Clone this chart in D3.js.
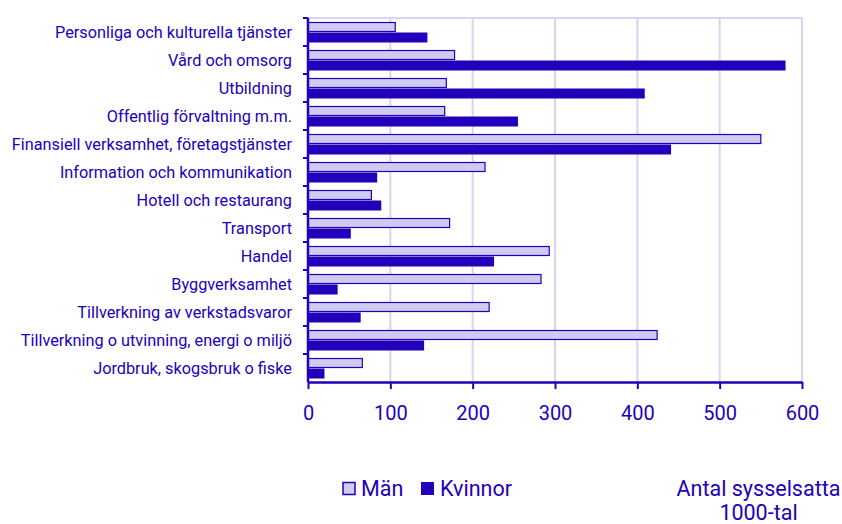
<!DOCTYPE html>
<html>
<head>
<meta charset="utf-8">
<script src="https://cdn.jsdelivr.net/npm/d3@7"></script>
<style>
	body { margin: 0; background: #fff; }
	svg { font-family: Roboto, "Noto Sans", sans-serif; }
</style>
</head>
<body>
<script>
	// DATA
	const categories = [
		'Personliga och kulturella tjänster',
		'Vård och omsorg',
		'Utbildning',
		'Offentlig förvaltning m.m.',
		'Finansiell verksamhet, företagstjänster',
		'Information och kommunikation',
		'Hotell och restaurang',
		'Transport',
		'Handel',
		'Byggverksamhet',
		'Tillverkning av verkstadsvaror',
		'Tillverkning o utvinning, energi o miljö',
		'Jordbruk, skogsbruk o fiske'
	];
	const man = [106, 178, 168, 166, 550, 215, 77, 172, 293, 283, 220, 424, 66];
	const kvinnor = [145, 580, 409, 255, 441, 84, 89, 52, 226, 36, 64, 141, 20];
	const xTicks = [0, 100, 200, 300, 400, 500, 600];
	const seriesNames = ['Män', 'Kvinnor'];

	// CONFIGURATION
	const width = 842;
	const height = 524;
	const plotLeft = 308;
	const plotRight = 802;
	const plotTop = 18;
	const plotBottom = 382;
	const dark = '#2200bb';
	const light = '#d0ccf0';
	const grid = '#d6d6f0';

	const xScale = d3.scaleLinear().domain([0, 600]).range([plotLeft, plotRight]);
	const yScale = d3.scaleBand().domain(categories).range([plotTop, plotBottom]);
	const bw = yScale.bandwidth();

	const svg = d3.select('body')
		.append('svg')
		.attr('width', width)
		.attr('height', height);

	// GRID
	svg.append('g')
		.selectAll('line')
		.data(xTicks.slice(1))
		.enter()
		.append('line')
		.attr('x1', d => xScale(d))
		.attr('x2', d => xScale(d))
		.attr('y1', plotTop)
		.attr('y2', plotBottom)
		.attr('stroke', grid)
		.attr('stroke-width', 2);
	svg.append('line')
		.attr('x1', plotLeft)
		.attr('x2', plotRight)
		.attr('y1', plotTop)
		.attr('y2', plotTop)
		.attr('stroke', grid)
		.attr('stroke-width', 2);

	// BARS
	svg.selectAll('rect.man')
		.data(man)
		.enter()
		.append('rect')
		.attr('class', 'man')
		.attr('x', plotLeft)
		.attr('y', (d, i) => yScale(categories[i]) + 4.5)
		.attr('width', d => xScale(d) - plotLeft)
		.attr('height', 9)
		.attr('fill', light)
		.attr('stroke', dark)
		.attr('stroke-width', 1.2);

	svg.selectAll('rect.kvinnor')
		.data(kvinnor)
		.enter()
		.append('rect')
		.attr('class', 'kvinnor')
		.attr('x', plotLeft)
		.attr('y', (d, i) => yScale(categories[i]) + 14.5)
		.attr('width', d => xScale(d) - plotLeft)
		.attr('height', 10)
		.attr('fill', dark);

	// AXES
	const xAxis = svg.append('g')
		.attr('transform', `translate(0, ${plotBottom})`)
		.call(d3.axisBottom(xScale).tickValues(xTicks).tickSize(7).tickSizeOuter(0).tickPadding(17));
	xAxis.select('.domain').attr('stroke', dark).attr('stroke-width', 2.5);
	xAxis.selectAll('.tick line').attr('stroke', dark).attr('stroke-width', 2);
	xAxis.selectAll('.tick text')
		.attr('fill', dark)
		.attr('font-size', 20)
		.attr('font-family', 'Roboto');

	// y axis line and boundary ticks
	svg.append('line')
		.attr('x1', plotLeft)
		.attr('x2', plotLeft)
		.attr('y1', plotTop)
		.attr('y2', plotBottom)
		.attr('stroke', dark)
		.attr('stroke-width', 2.5);
	svg.append('g')
		.selectAll('line')
		.data(categories)
		.enter()
		.append('line')
		.attr('x1', plotLeft - 5)
		.attr('x2', plotLeft)
		.attr('y1', d => yScale(d))
		.attr('y2', d => yScale(d))
		.attr('stroke', dark)
		.attr('stroke-width', 2);

	svg.append('g')
		.selectAll('text')
		.data(categories)
		.enter()
		.append('text')
		.attr('x', 292)
		.attr('y', d => yScale(d) + bw / 2)
		.attr('dy', '0.35em')
		.attr('text-anchor', 'end')
		.attr('fill', dark)
		.attr('font-size', 16.3)
		.text(d => d);

	// LEGEND
	const legend = svg.append('g');
	legend.append('rect')
		.attr('x', 343).attr('y', 482.5)
		.attr('width', 12).attr('height', 12)
		.attr('fill', light).attr('stroke', dark).attr('stroke-width', 1.5);
	legend.append('text')
		.attr('x', 361).attr('y', 496)
		.attr('fill', dark).attr('font-size', 21.5)
		.text(seriesNames[0]);
	legend.append('rect')
		.attr('x', 421).attr('y', 482)
		.attr('width', 13).attr('height', 13)
		.attr('fill', dark);
	legend.append('text')
		.attr('x', 440).attr('y', 496)
		.attr('fill', dark).attr('font-size', 21.5)
		.text(seriesNames[1]);

	// UNIT
	svg.append('text')
		.attr('x', 758.5).attr('y', 496)
		.attr('text-anchor', 'middle')
		.attr('fill', dark).attr('font-size', 21.5)
		.text('Antal sysselsatta');
	svg.append('text')
		.attr('x', 758.5).attr('y', 520)
		.attr('text-anchor', 'middle')
		.attr('fill', dark).attr('font-size', 21.5)
		.text('1000-tal');
</script>
</body>
</html>
